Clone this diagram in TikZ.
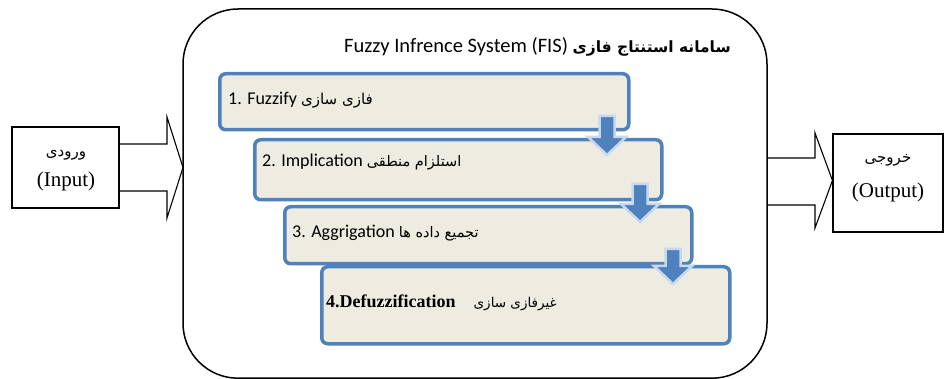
\documentclass[tikz,border=0pt]{standalone}
\usepackage{fontspec}
\setmainfont{Liberation Serif}
\newfontfamily\carl{Carlito}
\newfontfamily\fa[Script=Arabic]{DejaVu Sans}
\TeXXeTstate=1
\definecolor{boxblue}{HTML}{4F81BD}
\definecolor{boxfill}{HTML}{EEECE1}
\definecolor{glow}{HTML}{C6D9F1}
\tikzset{
  stepbox/.style={draw=boxblue, line width=3.5pt, fill=boxfill, rounded corners=6pt, anchor=north west, inner sep=0pt},
  steptext/.style={anchor=west, inner sep=0pt, font=\carl\fontsize{18}{20}\selectfont},
  iobox/.style={draw=black, line width=1.1pt, inner sep=0pt, align=center},
  blockarrow/.style={draw=black, line width=1.1pt, line join=miter},
  dnarrow/.style={fill=boxblue, draw=glow, line width=2.5pt, line join=miter},
}
\newcommand\downarr[3]{%
  \path[dnarrow] ({#1-7.5},#2) -- ({#1+7.5},#2) -- ({#1+7.5},{#3-18}) -- ({#1+19},{#3-18}) -- (#1,#3) -- ({#1-19},{#3-18}) -- ({#1-7.5},{#3-18}) -- cycle;}
\begin{document}
\begin{tikzpicture}[x=1pt,y=-1pt]
\useasboundingbox[fill=white] (0,0) rectangle (945,379);
% main system frame
\draw[line width=1.5pt, rounded corners=55pt] (183,9) rectangle (767,378.2);
\node[anchor=east, inner sep=0pt] (title) at (731,47) {\carl\fontsize{20.5}{22}\selectfont Fuzzy Infrence System (FIS)\ {\fa\bfseries\fontsize{15.5}{17}\selectfont\beginR سامانه استنتاج فازی\endR}};
% step boxes
\node[stepbox, minimum width=409pt, minimum height=56pt] (b1) at (218,72) {};
\node[stepbox, minimum width=407pt, minimum height=60pt] (b2) at (253,138) {};
\node[stepbox, minimum width=407pt, minimum height=57pt] (b3) at (283,205) {};
\node[stepbox, minimum width=408pt, minimum height=77pt] (b4) at (320,265) {};
\node[steptext] (t1) at (228,100) {1. Fuzzify {\fa\fontsize{15}{17}\selectfont\beginR فازی سازی\endR}};
\node[steptext] (t2) at (262,162) {2. Implication {\fa\fontsize{14.5}{16}\selectfont\beginR استلزام منطقی\endR}};
\node[steptext] (t3) at (292,233) {3. Aggrigation {\fa\fontsize{14.5}{16}\selectfont\beginR تجمیع داده ها\endR}};
\node[steptext, font=\fontsize{18}{20}\selectfont] (t4) at (326,303) {\textbf{4.Defuzzification}\quad{\fa\fontsize{13.5}{15}\selectfont\beginR غیرفازی سازی\endR}};
% down arrows between steps
\downarr{607}{116}{155}
\downarr{640}{184}{222}
\downarr{673}{249}{284}
% input
\node[iobox, minimum width=107pt, minimum height=81pt] (inp) at (65.5,167.5) {};
\node[inner sep=0pt] (inpfa) at (66,155) {\fa\fontsize{15}{17}\selectfont\beginR ورودی\endR};
\node[inner sep=0pt] (inpen) at (66,181) {\fontsize{21}{23}\selectfont (Input)};
\draw[blockarrow] (inp.east |- 0,144) -- (167,144) -- (167,117) -- (183,167.5) -- (167,218) -- (167,191) -- (inp.east |- 0,191);
% output
\node[iobox, minimum width=110pt, minimum height=98pt] (outp) at (888,183) {};
\node[inner sep=0pt] (outfa) at (888,160) {\fa\fontsize{15}{17}\selectfont\beginR خروجی\endR};
\node[inner sep=0pt] (outen) at (888,192) {\fontsize{21}{23}\selectfont (Output)};
\draw[blockarrow] (767,158) -- (815,158) -- (815,133) -- (outp.west |- 0,180.5) -- (815,228) -- (815,205) -- (767,205);
\end{tikzpicture}
\end{document}
